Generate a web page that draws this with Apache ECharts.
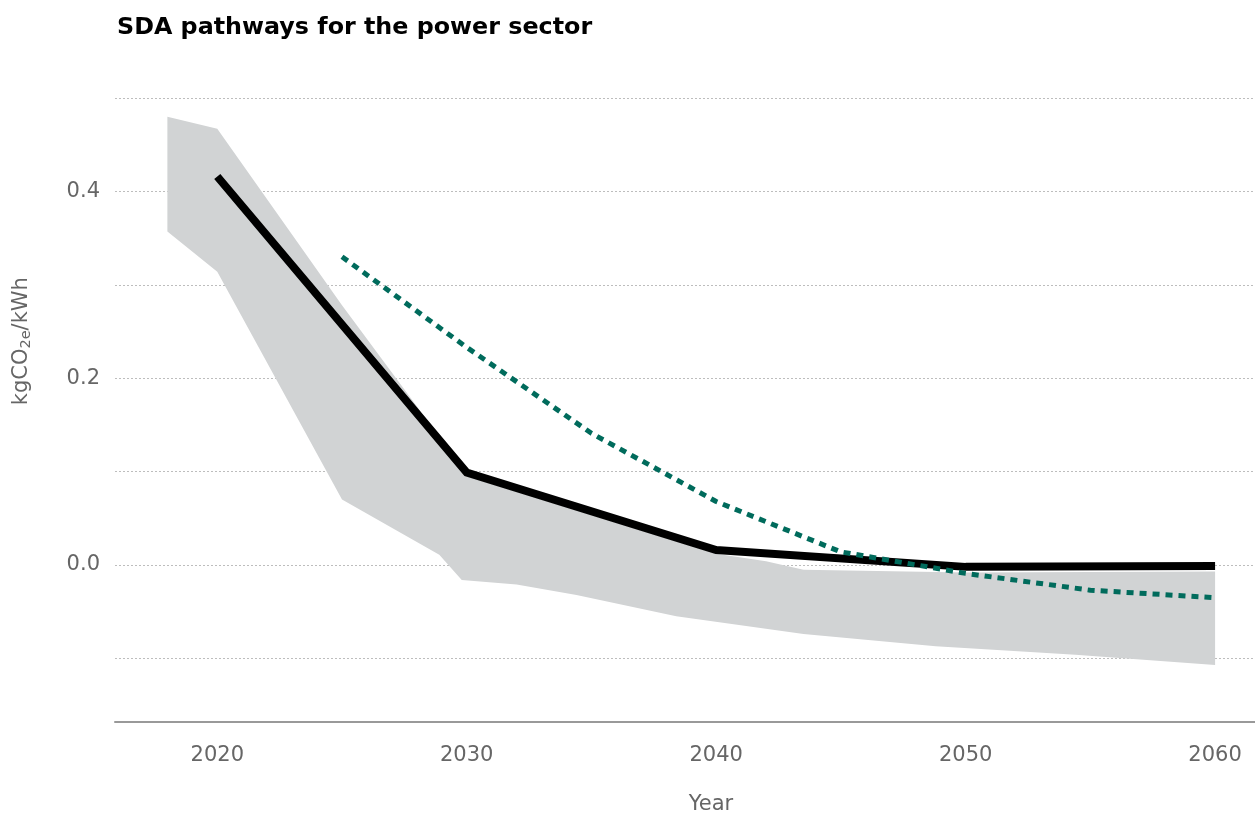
<!DOCTYPE html>
<html>
<head>
<meta charset="utf-8">
<script src="https://cdn.jsdelivr.net/npm/echarts@6/dist/echarts.min.js"></script>
<style>html,body{margin:0;padding:0;background:#fff}#c{width:1255px;height:814px}</style>
</head>
<body>
<div id="c"></div>
<script>
// Data
const bandUpperYears = [2018, 2020, 2025, 2028, 2030, 2040, 2042, 2043.5, 2050, 2060];
const bandUpper      = [0.480, 0.467, 0.278, 0.170, 0.095, 0.012, 0.004, -0.005, -0.008, -0.007];
const bandLowerYears = [2018, 2020, 2025, 2028.9, 2029.8, 2032, 2034.4, 2038.4, 2043.5, 2048.8, 2054.4, 2060];
const bandLower      = [0.357, 0.314, 0.070, 0.011, -0.016, -0.021, -0.032, -0.055, -0.074, -0.087, -0.096, -0.107];
const sdaYears  = [2020, 2030, 2040, 2050, 2060];
const sdaValues = [0.416, 0.099, 0.016, -0.002, -0.001];
const dotYears  = [2025, 2030, 2035, 2040, 2045, 2050, 2055, 2060];
const dotValues = [0.330, 0.233, 0.141, 0.068, 0.014, -0.009, -0.027, -0.035];
const yLabelValues = [0.0, 0.2, 0.4];

const FONT = 'DejaVu Sans';
const chart = echarts.init(document.getElementById('c'));

const upperPts = bandUpperYears.map((y, i) => [y, bandUpper[i]]);
const lowerPts = bandLowerYears.map((y, i) => [y, bandLower[i]]);

chart.setOption({
  animation: false,
  title: {
    text: 'SDA pathways for the power sector',
    left: 112, top: 11,
    textStyle: { fontFamily: FONT, fontWeight: 'bold', fontSize: 23.8, color: '#000' }
  },
  grid: { left: 115, right: 0, top: 98, bottom: 814 - 658.4, outerBoundsMode: 'none', containLabel: false },
  xAxis: {
    type: 'value',
    min: 2015.9, max: 2061.6,
    offset: 63,
    name: 'Year',
    nameLocation: 'middle',
    nameGap: 73,
    nameTextStyle: { fontFamily: FONT, fontSize: 21, color: '#666', padding: [0, 0, 0, 52] },
    axisLine: { show: true, onZero: false, lineStyle: { color: '#999', width: 2 } },
    axisTick: { show: false },
    splitLine: { show: false },
    axisLabel: {
      fontFamily: FONT, fontSize: 21, color: '#666', margin: 24,
      formatter: v => (Math.abs(v % 10) < 1e-6 ? String(Math.round(v)) : '')
    }
  },
  yAxis: {
    type: 'value',
    min: -0.1, max: 0.5, interval: 0.1,
    name: 'kgCO{sub|2e}/kWh',
    nameLocation: 'middle',
    nameGap: 81,
    nameTextStyle: {
      fontFamily: FONT, fontSize: 21, color: '#666', lineHeight: 24, padding: [0, 0, 0, 74],
      rich: { sub: { fontFamily: FONT, fontSize: 14.5, color: '#666', lineHeight: 15, verticalAlign: 'bottom' } }
    },
    axisLine: { show: false },
    axisTick: { show: false },
    axisLabel: {
      fontFamily: FONT, fontSize: 21, color: '#666', margin: 15, padding: [12, 0, 0, 0],
      formatter: v => (yLabelValues.some(t => Math.abs(t - v) < 1e-6) ? v.toFixed(1) : '')
    },
    splitLine: { show: true, lineStyle: { color: '#bdbdbd', width: 1, type: [2, 2] } }
  },
  series: [
    {
      type: 'custom',
      clip: false,
      silent: true,
      data: [[2018, 0]],
      renderItem: (params, api) => {
        const pts = upperPts.concat(lowerPts.slice().reverse()).map(p => api.coord(p));
        return { type: 'polygon', shape: { points: pts }, style: { fill: '#d1d3d4' } };
      },
      z: 1
    },
    {
      type: 'line',
      clip: false,
      data: sdaYears.map((y, i) => [y, sdaValues[i]]),
      showSymbol: false,
      lineStyle: { color: '#000', width: 8, cap: 'butt', join: 'miter' },
      z: 3
    },
    {
      type: 'line',
      clip: false,
      data: dotYears.map((y, i) => [y, dotValues[i]]),
      showSymbol: false,
      lineStyle: { color: '#006b5c', width: 5, type: [7, 6], cap: 'butt' },
      z: 4
    }
  ]
});
</script>
</body>
</html>
